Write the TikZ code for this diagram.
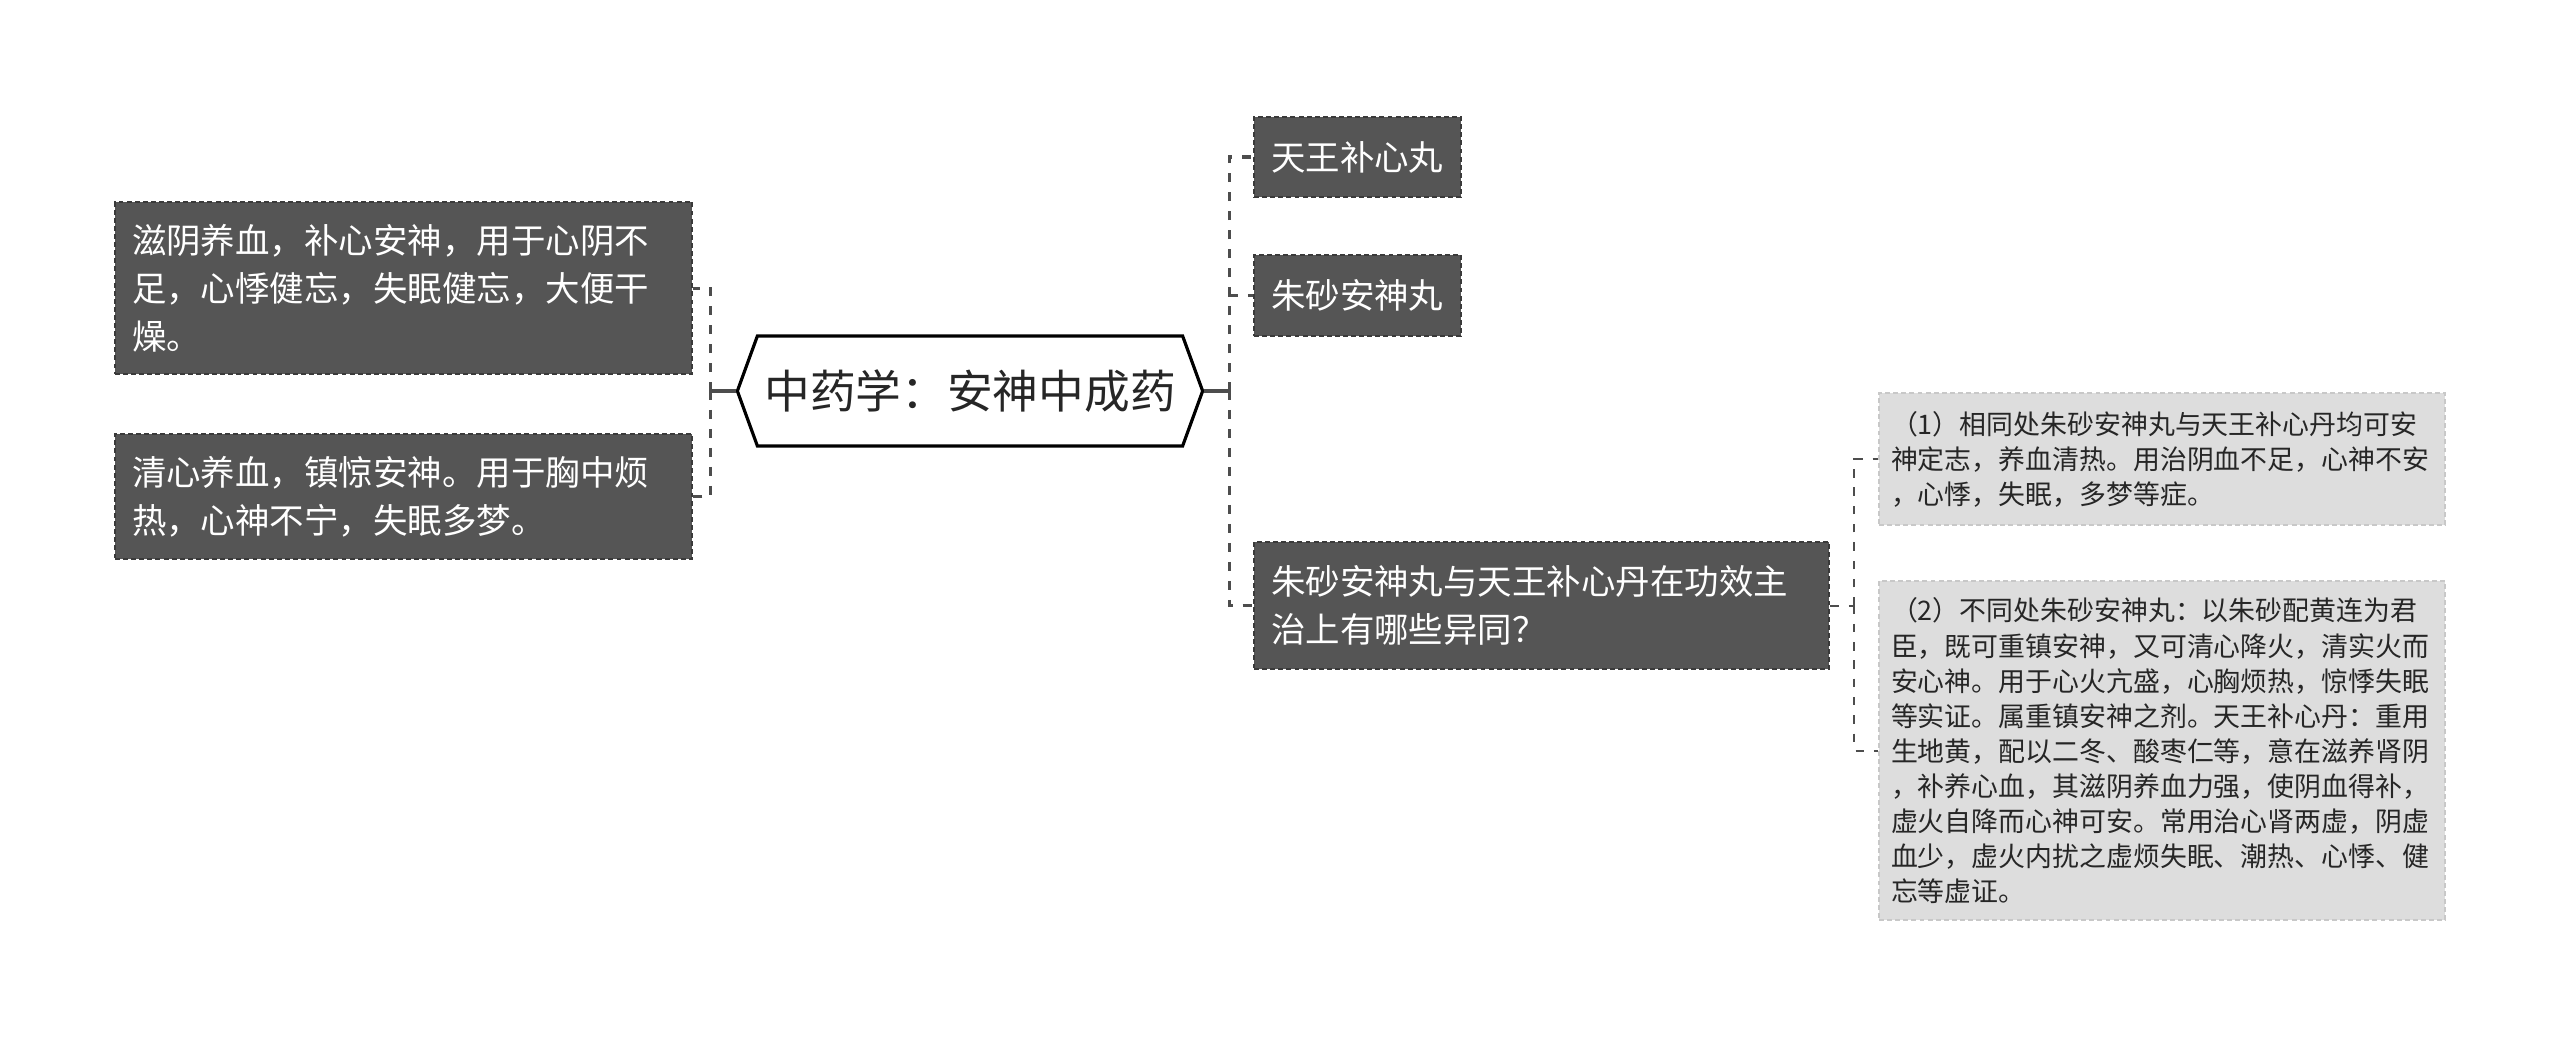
\documentclass[tikz,border=0pt]{standalone}
\usepackage{fontspec}
\newfontfamily\cjk{Noto Sans CJK SC}
\usetikzlibrary{shapes.symbols}
\definecolor{boxdark}{HTML}{555555}
\definecolor{boxedge}{HTML}{3A3A3A}
\definecolor{boxlite}{HTML}{DDDDDD}
\definecolor{liteedge}{HTML}{C8C8C8}
\definecolor{linkgray}{HTML}{4D4D4D}
\definecolor{inkdark}{HTML}{262626}

\begin{document}
\begin{tikzpicture}[x=0.01cm,y=-0.01cm,
    darkbox/.style={rectangle,anchor=north west,fill=boxdark,draw=boxedge,line width=0.6pt,
      dash pattern=on 1.4pt off 0.9pt,text=white,align=left,inner xsep=0.17cm,inner ysep=1pt,
      font=\cjk\fontsize{9.8pt}{13.6pt}\selectfont},
    litebox/.style={rectangle,anchor=north west,fill=boxlite,draw=liteedge,line width=0.6pt,
      dash pattern=on 1.4pt off 0.9pt,text=inkdark,align=left,inner xsep=0.12cm,inner ysep=1pt,
      text width=5.42cm,font=\cjk\fontsize{7.65pt}{9.96pt}\selectfont},
    stub/.style={draw=linkgray,line width=1pt},
    conn/.style={draw=linkgray,line width=0.9pt,dash pattern=on 2.6pt off 2.8pt},
    subconn/.style={draw=linkgray,line width=0.55pt,dash pattern=on 2.4pt off 2.8pt}]
  \useasboundingbox (0,0) rectangle (2560,1037);

  % 中心主题
  \node[signal,signal to=west and east,signal pointer angle=140,draw=black,line width=0.9pt,
    fill=white,text=inkdark,minimum width=4.65cm,minimum height=1.1cm,inner sep=0pt,
    font=\cjk\fontsize{13pt}{15pt}\selectfont] (root) at (970,391) {中药学：安神中成药};

  % 左侧
  \node[darkbox,text width=5.43cm,minimum height=1.72cm] (left1) at (114,201)
    {滋阴养血，补心安神，用于心阴不\\足，心悸健忘，失眠健忘，大便干\\燥。};
  \node[darkbox,text width=5.43cm,minimum height=1.25cm] (left2) at (114,433)
    {清心养血，镇惊安神。用于胸中烦\\热，心神不宁，失眠多梦。};

  % 右侧
  \node[darkbox,text width=1.73cm,minimum height=0.80cm] (r1) at (1253,116) {天王补心丸};
  \node[darkbox,text width=1.73cm,minimum height=0.81cm] (r2) at (1253,254) {朱砂安神丸};
  \node[darkbox,text width=5.41cm,minimum height=1.27cm] (r3) at (1253,541)
    {朱砂安神丸与天王补心丹在功效主\\治上有哪些异同？};

  % 异同
  \node[litebox,minimum height=1.32cm] (a1) at (1878,392)
    {（1）相同处朱砂安神丸与天王补心丹均可安\\神定志，养血清热。用治阴血不足，心神不安\\，心悸，失眠，多梦等症。};
  \node[litebox,minimum height=3.39cm] (a2) at (1878,580)
    {（2）不同处朱砂安神丸：以朱砂配黄连为君\\臣，既可重镇安神，又可清心降火，清实火而\\安心神。用于心火亢盛，心胸烦热，惊悸失眠\\等实证。属重镇安神之剂。天王补心丹：重用\\生地黄，配以二冬、酸枣仁等，意在滋养肾阴\\，补养心血，其滋阴养血力强，使阴血得补，\\虚火自降而心神可安。常用治心肾两虚，阴虚\\血少，虚火内扰之虚烦失眠、潮热、心悸、健\\忘等虚证。};

  % 连线
  \path (root.west) ++(-25,0) coordinate (jl);
  \draw[stub] (root.west) -- (jl);
  \foreach \n in {left1,left2}
    \draw[conn] (jl) |- (\n.east);
  \path (root.east) ++(25,0) coordinate (jr);
  \draw[stub] (root.east) -- (jr);
  \foreach \n in {r1,r2,r3}
    \draw[conn] (jr) |- (\n.west);
  \path (r3.east) ++(24,0) coordinate (jq);
  \draw[subconn] (r3.east) -- (jq);
  \foreach \n in {a1,a2}
    \draw[subconn] (jq) |- (\n.west);
\end{tikzpicture}
\end{document}
